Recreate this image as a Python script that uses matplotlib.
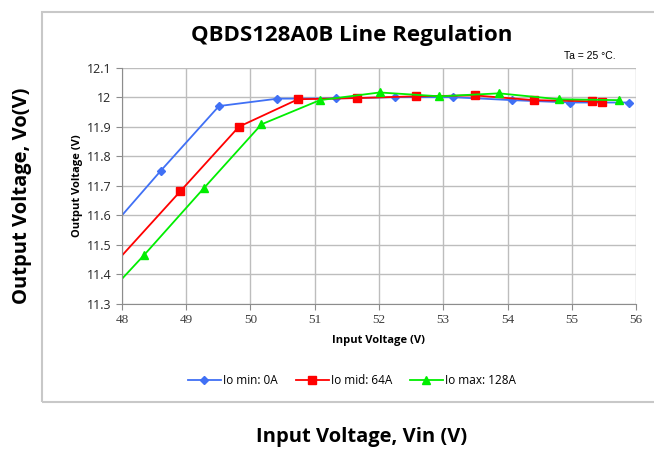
import matplotlib.pyplot as plt
from matplotlib.patches import Rectangle

# data
vin_min = [48.0, 48.6, 49.51, 50.42, 51.33, 52.25, 53.15, 54.07, 54.97, 55.89]
vo_min = [11.60, 11.75, 11.97, 11.995, 11.996, 12.0, 12.0, 11.99, 11.982, 11.982]

vin_mid = [48.0, 48.91, 49.82, 50.74, 51.65, 52.57, 53.49, 54.41, 55.32, 55.47]
vo_mid = [11.464, 11.682, 11.90, 11.993, 11.997, 12.003, 12.006, 11.99, 11.986, 11.984]

vin_max = [48.0, 48.35, 49.27, 50.17, 51.08, 52.01, 52.94, 53.87, 54.80, 55.73]
vo_max = [11.385, 11.467, 11.691, 11.908, 11.99, 12.016, 12.003, 12.013, 11.993, 11.99]

labels = ["Io min: 0A", "Io mid: 64A", "Io max: 128A"]
xticks = [48, 49, 50, 51, 52, 53, 54, 55, 56]
yticks = [11.3, 11.4, 11.5, 11.6, 11.7, 11.8, 11.9, 12.0, 12.1]

fig = plt.figure(figsize=(6.54, 4.51), dpi=100)
ax = fig.add_axes([0.1865, 0.326, 0.786, 0.524])

# first point of each series sits on the axis without a marker
ax.plot(vin_min, vo_min, color="#4070f5", marker="D", markersize=4, lw=1.3,
        markevery=list(range(1, len(vin_min))), label=labels[0])
ax.plot(vin_mid, vo_mid, color="#ff0000", marker="s", markersize=6, lw=1.3,
        markevery=list(range(1, len(vin_mid))), label=labels[1])
ax.plot(vin_max, vo_max, color="#00ee00", marker="^", markersize=6, lw=1.3,
        markevery=list(range(1, len(vin_max))), label=labels[2])

ax.set_xlim(48, 56)
ax.set_ylim(11.3, 12.1)
ax.set_xticks(xticks)
ax.set_xticklabels([str(v) for v in xticks], family="Liberation Serif", fontsize=9.5, color="#404040")
ax.set_yticks(yticks)
ax.set_yticklabels(["12" if v == 12.0 else f"{v:.1f}" for v in yticks], family="Open Sans", fontsize=9, color="#262626")
ax.grid(True, color="#bdbdbd", lw=1)
for s in ["top", "right"]:
    ax.spines[s].set_visible(False)
for s in ["left", "bottom"]:
    ax.spines[s].set_color("#8c8c8c")
ax.tick_params(color="#8c8c8c", length=4, width=0.8)
ax.set_axisbelow(True)

ax.set_xlabel("Input Voltage (V)", family="Open Sans", fontweight="bold", fontsize=8, labelpad=6)
ax.set_ylabel("Output Voltage (V)", family="Open Sans", fontweight="bold", fontsize=8, labelpad=3)

fig.legend(loc="center", bbox_to_anchor=(352 / 654, 1 - 381 / 451), ncol=3, frameon=False,
           prop={"family": "Open Sans", "size": 8.5}, handlelength=2.8, columnspacing=1.5, handletextpad=0.2)

fig.text(352 / 654, 1 - 35 / 451, "QBDS128A0B Line Regulation", ha="center", va="center",
         family="Open Sans", fontweight="bold", fontsize=16)
fig.text(590 / 654, 1 - 56 / 451, "Ta = 25 \u00b0C.", ha="center", va="center",
         family="Liberation Sans", fontsize=7.5)

fig.patches.append(Rectangle((42 / 654, 1 - 402 / 451), 1.0, (402 - 12) / 451,
                             transform=fig.transFigure, fill=False, edgecolor="#c8c8c8", lw=1.5))

fig.text(22 / 654, 1 - 196 / 451, "Output Voltage, Vo(V)", rotation=90, ha="center", va="center",
         family="Open Sans", fontweight="bold", fontsize=14.5)
fig.text(362 / 654, 1 - 437 / 451, "Input Voltage, Vin (V)", ha="center", va="center",
         family="Open Sans", fontweight="bold", fontsize=14.5)

fig.savefig("out.png", dpi=100)
